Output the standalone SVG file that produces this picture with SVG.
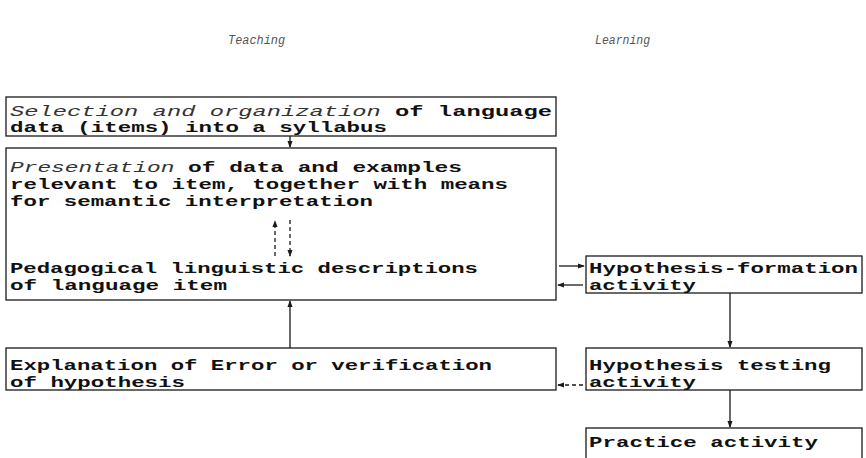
<svg xmlns="http://www.w3.org/2000/svg" width="866" height="458" viewBox="0 0 866 458">
  <style>
    .box { fill: none; stroke: #1a1a1a; stroke-width: 1.3; }
    .t { font-family: "Liberation Mono", "DejaVu Sans Mono", monospace; font-size: 15px; font-weight: bold; fill: #111; }
    .it { font-style: italic; font-weight: normal; fill: #333; }
    .head { font-family: "Liberation Mono", "DejaVu Sans Mono", monospace; font-size: 12px; font-style: italic; fill: #555; }
    .ln { fill: none; stroke: #1a1a1a; stroke-width: 1.3; }
    .dash { stroke-dasharray: 4 3; }
  </style>
  <defs>
    <marker id="ah" viewBox="0 0 8 8" refX="7" refY="4" markerWidth="7" markerHeight="7" orient="auto" markerUnits="userSpaceOnUse">
      <path d="M0,1 L8,4 L0,7 Z" fill="#1a1a1a"/>
    </marker>
  </defs>

  <!-- column headings -->
  <text class="head" x="228" y="44" textLength="57" lengthAdjust="spacingAndGlyphs">Teaching</text>
  <text class="head" x="595" y="44" textLength="55" lengthAdjust="spacingAndGlyphs">Learning</text>

  <g id="selection">
    <rect class="box" x="6" y="97" width="550" height="39"/>
    <text class="t" x="10" y="116" textLength="542" lengthAdjust="spacingAndGlyphs"><tspan class="it">Selection and organization</tspan> of language</text>
    <text class="t" x="10" y="132" textLength="377" lengthAdjust="spacingAndGlyphs">data (items) into a syllabus</text>
  </g>

  <g id="presentation">
    <rect class="box" x="6" y="148" width="550" height="152"/>
    <text class="t" x="10" y="172" textLength="452" lengthAdjust="spacingAndGlyphs"><tspan class="it">Presentation</tspan> of data and examples</text>
    <text class="t" x="10" y="189" textLength="498" lengthAdjust="spacingAndGlyphs">relevant to item, together with means</text>
    <text class="t" x="10" y="206" textLength="363" lengthAdjust="spacingAndGlyphs">for semantic interpretation</text>
    <text class="t" x="10" y="273" textLength="468" lengthAdjust="spacingAndGlyphs">Pedagogical linguistic descriptions</text>
    <text class="t" x="10" y="290" textLength="217" lengthAdjust="spacingAndGlyphs">of language item</text>
  </g>

  <g id="explanation">
    <rect class="box" x="6" y="348" width="550" height="42"/>
    <text class="t" x="10" y="370" textLength="482" lengthAdjust="spacingAndGlyphs">Explanation of Error or verification</text>
    <text class="t" x="10" y="387" textLength="175" lengthAdjust="spacingAndGlyphs">of hypothesis</text>
  </g>

  <g id="hypothesis-formation">
    <rect class="box" x="586" y="256" width="276" height="37"/>
    <text class="t" x="589" y="273" textLength="269" lengthAdjust="spacingAndGlyphs">Hypothesis-formation</text>
    <text class="t" x="589" y="290" textLength="107" lengthAdjust="spacingAndGlyphs">activity</text>
  </g>

  <g id="hypothesis-testing">
    <rect class="box" x="586" y="348" width="276" height="42"/>
    <text class="t" x="589" y="370" textLength="242" lengthAdjust="spacingAndGlyphs">Hypothesis testing</text>
    <text class="t" x="589" y="387" textLength="107" lengthAdjust="spacingAndGlyphs">activity</text>
  </g>

  <g id="practice">
    <rect class="box" x="586" y="428" width="276" height="44"/>
    <text class="t" x="589" y="447" textLength="229" lengthAdjust="spacingAndGlyphs">Practice activity</text>
  </g>

  <g id="connectors">
    <line class="ln" x1="290" y1="136" x2="290" y2="147" marker-end="url(#ah)"/>
    <line class="ln dash" x1="275" y1="256" x2="275" y2="221" marker-end="url(#ah)"/>
    <line class="ln dash" x1="290" y1="220" x2="290" y2="256" marker-end="url(#ah)"/>
    <line class="ln" x1="290" y1="348" x2="290" y2="301" marker-end="url(#ah)"/>
    <line class="ln" x1="559" y1="266" x2="584" y2="266" marker-end="url(#ah)"/>
    <line class="ln" x1="583" y1="285" x2="558" y2="285" marker-end="url(#ah)"/>
    <line class="ln" x1="730" y1="293" x2="730" y2="347" marker-end="url(#ah)"/>
    <line class="ln dash" x1="583" y1="385" x2="558" y2="385" marker-end="url(#ah)"/>
    <line class="ln" x1="730" y1="390" x2="730" y2="427" marker-end="url(#ah)"/>
  </g>
</svg>
